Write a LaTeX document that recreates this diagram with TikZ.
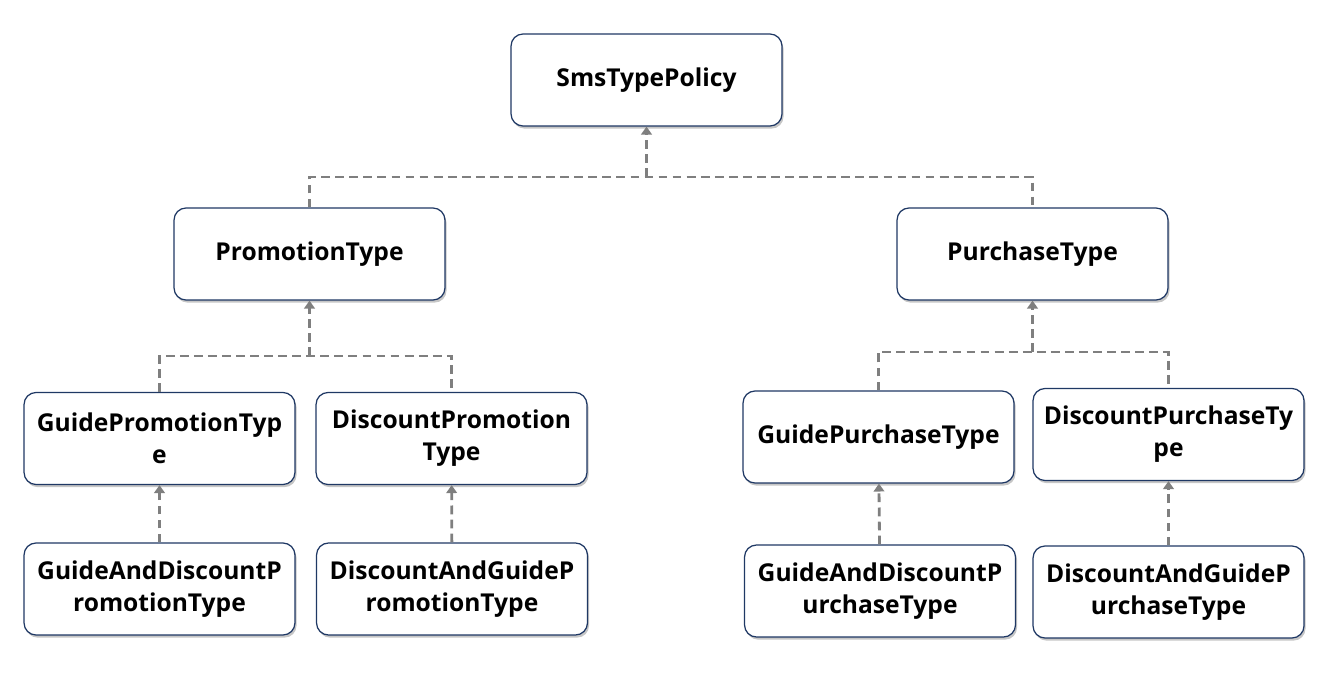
\documentclass[tikz,border=0pt]{standalone}
\usepackage{fontspec}
\setmainfont{Open Sans}
\usepackage{tikz}
\usetikzlibrary{arrows.meta,shadows}

\definecolor{boxline}{HTML}{1F3864}
\definecolor{linkgray}{HTML}{7F7F7F}

\begin{document}
\begin{tikzpicture}[x=0.02cm,y=-0.02cm,
    typebox/.style={draw=boxline, line width=0.7pt, fill=white, rounded corners=0.24cm,
      minimum width=5.42cm, minimum height=1.84cm, align=center, inner sep=2pt,
      font=\fontsize{14}{18.3}\selectfont\bfseries,
      drop shadow={opacity=0.45, shadow xshift=0.9pt, shadow yshift=-1.5pt}},
    link/.style={draw=linkgray, line width=1.6pt, dash pattern=on 5pt off 3pt},
    uplink/.style={link, -{Triangle[length=4.5pt,width=6pt]}}]
        \useasboundingbox (0,0) rectangle (1325,689);

        % top level
        \node[typebox] (policy) at (646.5,80) {SmsTypePolicy};
        \node[typebox] (promo) at (309.5,254) {PromotionType};
        \node[typebox] (purch) at (1032.5,254) {PurchaseType};

        % second level
        \node[typebox] (gpromo) at (159.5,438.5) {GuidePromotionTyp\\e};
        \node[typebox] (dpromo) at (451.5,438.5) {DiscountPromotion\\Type};
        \node[typebox] (gpurch) at (878.5,437) {GuidePurchaseType};
        \node[typebox] (dpurch) at (1168.5,434.5) {DiscountPurchaseTy\\pe};

        % third level
        \node[typebox] (gdpromo) at (159.5,589) {GuideAndDiscountP\\romotionType};
        \node[typebox] (dgpromo) at (452,589) {DiscountAndGuideP\\romotionType};
        \node[typebox] (gdpurch) at (880,591) {GuideAndDiscountP\\urchaseType};
        \node[typebox] (dgpurch) at (1168.5,592) {DiscountAndGuideP\\urchaseType};

        % junctions
        \coordinate (jtop) at (646.5,177);
        \coordinate (jpromo) at (309.5,356);
        \coordinate (jpurch) at (1032.5,352);

        \draw[link] (promo.north) |- (jtop) -| (purch.north);
        \draw[uplink] (jtop) -- (policy.south);

        \draw[link] (gpromo.north) |- (jpromo) -| (dpromo.north);
        \draw[uplink] (jpromo) -- (promo.south);

        \draw[link] (gpurch.north) |- (jpurch) -| (dpurch.north);
        \draw[uplink] (jpurch) -- (purch.south);

        \draw[uplink] (gdpromo) -- (gpromo);
        \draw[uplink] (dgpromo) -- (dpromo);
        \draw[uplink] (gdpurch) -- (gpurch);
        \draw[uplink] (dgpurch) -- (dpurch);
    \end{tikzpicture}
\end{document}
